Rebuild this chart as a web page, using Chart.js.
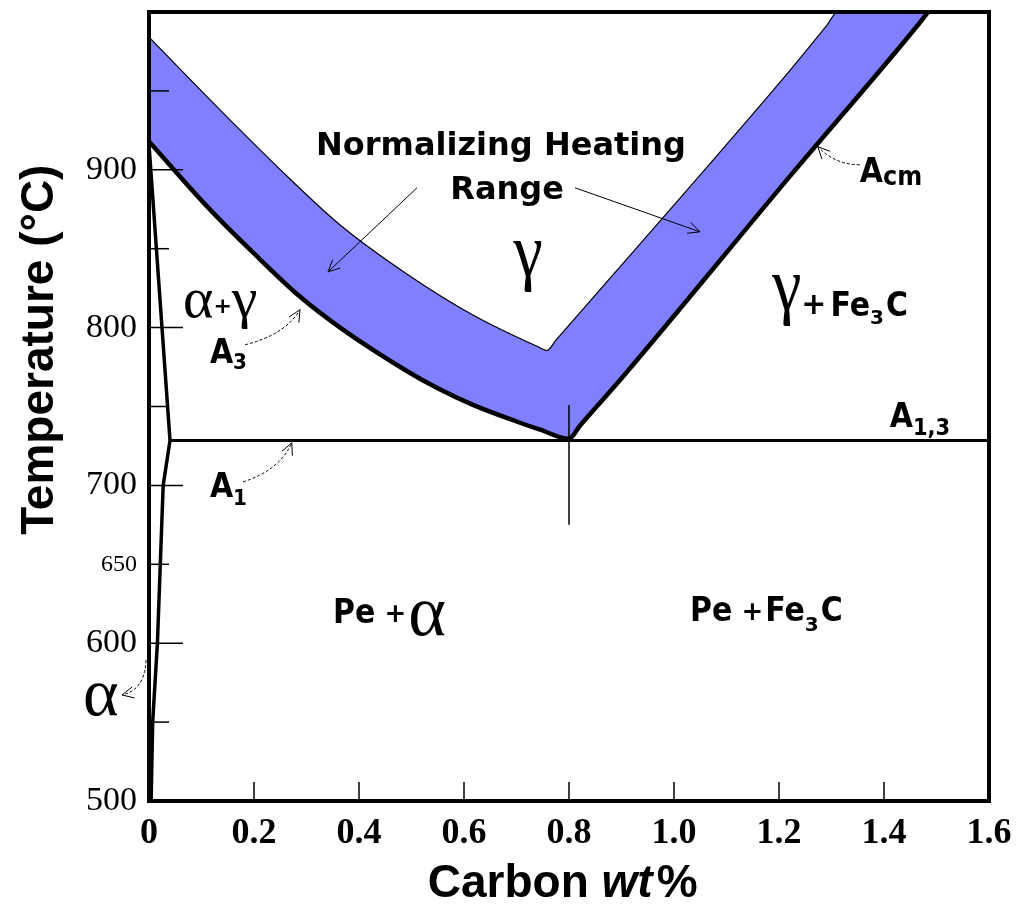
<!DOCTYPE html>
<html>
<head>
<meta charset="utf-8">
<script src="https://cdn.jsdelivr.net/npm/chart.js@4/dist/chart.umd.min.js"></script>
<style>
html,body{margin:0;padding:0;background:#fff;}
#wrap{width:1029px;height:904px;position:relative;}
</style>
</head>
<body>
<div id="wrap"><canvas id="c" width="1029" height="904"></canvas></div>
<script>
// ---- data (carbon wt% , temperature °C) ----
const upperX = [0, 0.168, 0.269, 0.364, 0.491, 0.617, 0.74, 0.758, 0.775, 1.221, 1.29, 1.312, 1.484];
const upperT = [984, 927, 894, 865, 834, 808, 788, 785.5, 792, 963, 991, 1000, 1000];
const lowerX = [0, 0.11, 0.2, 0.288, 0.364, 0.491, 0.55, 0.617, 0.7, 0.745, 0.8, 0.82, 0.903, 1.221, 1.47, 1.484];
const lowerT = [918, 877, 847, 819.5, 800, 772.5, 761.5, 751, 740.5, 735.3, 729.5, 737.5, 769, 896, 994, 1000];
const alphaX = [0, 0.04, 0.027, 0.016, 0.007, 0.004];
const alphaT = [916, 728.5, 700, 600, 550, 500];
const a1X = [0.04, 1.6];
const a1T = [728.5, 728.5];
const eutX = [0.8, 0.8];
const eutT = [751, 675];

const xTickValues = [0, 0.2, 0.4, 0.6, 0.8, 1.0, 1.2, 1.4, 1.6];
const xTickLabels = ['0', '0.2', '0.4', '0.6', '0.8', '1.0', '1.2', '1.4', '1.6'];
const xInnerTicks = [0.2, 0.4, 0.6, 0.8, 1.0, 1.2, 1.4];
const yTickValues = [500, 600, 650, 700, 800, 900];
const yTickLabels = ['500', '600', '650', '700', '800', '900'];
const yMajorTicks = [600, 700, 800, 900];
const yMinorTicks = [550, 650, 750, 850, 950];

// ---- annotation config ----
const SANS = '"DejaVu Sans"';
const SERIF = '"Liberation Serif"';
const annotations = [
  {x: 0.6705, y: 909.5, align: 'center', runs: [{t: 'Normalizing Heating', f: 'bold 32px ' + SANS}]},
  {x: 0.682, y: 881.6, align: 'center', runs: [{t: 'Range', f: 'bold 32px ' + SANS}]},
  {x: 0.722, y: 833, align: 'center', runs: [{t: 'γ', f: '66px ' + SERIF, sy: 1.15}]},
  {x: 0.0648, y: 806.8, runs: [{t: 'α', f: '58px ' + SERIF}, {t: '+', f: 'bold 22px ' + SANS, dy: -4}, {t: 'γ', f: '58px ' + SERIF}]},
  {x: 0.116, y: 777.7, runs: [{t: 'A', f: 'bold 30px ' + SANS, sy: 1.15}, {t: '3', f: 'bold 20px ' + SANS, dy: 6, sy: 1.1}]},
  {x: 0.116, y: 692.7, runs: [{t: 'A', f: 'bold 30px ' + SANS, sy: 1.15}, {t: '1', f: 'bold 20px ' + SANS, dy: 8, sy: 1.1}]},
  {x: 1.354, y: 892.4, runs: [{t: 'A', f: 'bold 30px ' + SANS, sy: 1.15}, {t: 'cm', f: 'bold 24px ' + SANS, dy: 3, sy: 1.1}]},
  {x: 1.411, y: 737.1, runs: [{t: 'A', f: 'bold 30px ' + SANS, sy: 1.15}, {t: '1,3', f: 'bold 21px ' + SANS, dy: 8, sy: 1.1}]},
  {x: 1.187, y: 811.3, runs: [{t: 'γ', f: '66px ' + SERIF, sy: 1.15}, {t: '+', f: 'bold 30px ' + SANS, dy: 4}, {t: 'Fe', f: 'bold 30px ' + SANS, dy: 6, sy: 1.1, dx: 4}, {t: '3', f: 'bold 20px ' + SANS, dy: 14}, {t: 'C', f: 'bold 30px ' + SANS, dy: 6, sy: 1.1, dx: 2}]},
  {x: 0.3505, y: 612.8, runs: [{t: 'Pe', f: 'bold 30px ' + SANS, sy: 1.15}, {t: ' +', f: 'bold 26px ' + SANS, dy: -1}, {t: 'α', f: '72px ' + SERIF, dy: 12, dx: 2}]},
  {x: 1.0305, y: 614.1, runs: [{t: 'Pe', f: 'bold 30px ' + SANS, sy: 1.15}, {t: ' +', f: 'bold 26px ' + SANS, dy: -1}, {t: 'Fe', f: 'bold 30px ' + SANS, sy: 1.15, dx: 2}, {t: '3', f: 'bold 20px ' + SANS, dy: 10}, {t: 'C', f: 'bold 30px ' + SANS, sy: 1.15, dx: 2}]},
  {x: -0.1257, y: 554.5, runs: [{t: 'α', f: '68px ' + SERIF}]}
];
const arrows = [
  {from: [0.5105, 888.6], to: [0.341, 835.3], dash: []},
  {from: [0.8114, 888.6], to: [1.0495, 860.7], dash: []},
  {from: [0.183, 789.1], ctrl: [0.259, 795.4], to: [0.2876, 811.3], dash: [3, 2]},
  {from: [0.179, 702.2], ctrl: [0.2495, 709.8], to: [0.272, 727], dash: [3, 2]},
  {from: [1.354, 903.2], ctrl: [1.307, 903.2], to: [1.274, 914.6], dash: [3, 2]},
  {from: [-0.0057, 589.4], ctrl: [-0.0076, 570.4], to: [-0.0514, 567.2], dash: [3, 2]}
];

const pts = (xs, ys) => xs.map((x, i) => ({x: x, y: ys[i]}));

function drawRuns(c, px, py, runs, align) {
  const widths = runs.map(r => { c.font = r.f; return c.measureText(r.t).width + (r.dx || 0); });
  const total = widths.reduce((a, b) => a + b, 0);
  let x = align === 'center' ? px - total / 2 : px;
  runs.forEach((r, i) => {
    c.save();
    c.font = r.f;
    c.textAlign = 'left';
    c.textBaseline = 'alphabetic';
    c.translate(x + (r.dx || 0), py + (r.dy || 0));
    c.scale(1, r.sy || 1);
    c.fillText(r.t, 0, 0);
    c.restore();
    x += widths[i];
  });
}

function arrowHead(c, tx, ty, ang) {
  const L = 13, s = 0.45;
  c.setLineDash([]);
  c.beginPath();
  c.moveTo(tx - L * Math.cos(ang - s), ty - L * Math.sin(ang - s));
  c.lineTo(tx, ty);
  c.lineTo(tx - L * Math.cos(ang + s), ty - L * Math.sin(ang + s));
  c.stroke();
}

const overlay = {
  id: 'overlay',
  afterDatasetsDraw(chart) {
    const c = chart.ctx, a = chart.chartArea, X = chart.scales.x, Y = chart.scales.y;
    c.save();
    c.strokeStyle = '#000';
    c.fillStyle = '#000';
    c.lineWidth = 4;
    c.strokeRect(a.left, a.top, a.right - a.left, a.bottom - a.top);
    c.lineWidth = 1.5;
    yMajorTicks.forEach(v => { const p = Y.getPixelForValue(v); c.beginPath(); c.moveTo(a.left, p); c.lineTo(a.left + 34, p); c.stroke(); });
    yMinorTicks.forEach(v => { const p = Y.getPixelForValue(v); c.beginPath(); c.moveTo(a.left, p); c.lineTo(a.left + 20, p); c.stroke(); });
    xInnerTicks.forEach(v => { const p = X.getPixelForValue(v); c.beginPath(); c.moveTo(p, a.bottom); c.lineTo(p, a.bottom - 19); c.stroke(); });
    c.lineWidth = 1;
    arrows.forEach(ar => {
      const fx = X.getPixelForValue(ar.from[0]), fy = Y.getPixelForValue(ar.from[1]);
      const tx = X.getPixelForValue(ar.to[0]), ty = Y.getPixelForValue(ar.to[1]);
      c.setLineDash(ar.dash);
      c.beginPath();
      c.moveTo(fx, fy);
      let ang;
      if (ar.ctrl) {
        const cx = X.getPixelForValue(ar.ctrl[0]), cy = Y.getPixelForValue(ar.ctrl[1]);
        c.quadraticCurveTo(cx, cy, tx, ty);
        ang = Math.atan2(ty - cy, tx - cx);
      } else {
        c.lineTo(tx, ty);
        ang = Math.atan2(ty - fy, tx - fx);
      }
      c.stroke();
      arrowHead(c, tx, ty, ang);
    });
    annotations.forEach(an => drawRuns(c, X.getPixelForValue(an.x), Y.getPixelForValue(an.y), an.runs, an.align));
    c.save();
    c.translate(a.left - 96, Y.getPixelForValue(786));
    c.rotate(-Math.PI / 2);
    c.font = 'bold 46px "Liberation Sans"';
    c.textAlign = 'center';
    c.textBaseline = 'alphabetic';
    c.fillText('Temperature (°C)', 0, 0);
    c.restore();
    drawRuns(c, X.getPixelForValue(0.531), a.bottom + 96, [
      {t: 'Carbon ', f: 'bold 46px "Liberation Sans"'},
      {t: 'wt', f: 'italic bold 46px "Liberation Sans"'},
      {t: '%', f: 'bold 46px "Liberation Sans"', dx: 4}
    ], 'left');
    c.restore();
  }
};

const zeroPad = s => { s.paddingTop = 0; s.paddingBottom = 0; s.paddingLeft = 0; s.paddingRight = 0; };

new Chart(document.getElementById('c'), {
  type: 'line',
  data: {
    datasets: [
      {label: 'Upper normalizing limit', data: pts(upperX, upperT), borderColor: '#000', borderWidth: 1.2, pointRadius: 0, fill: '+1', backgroundColor: '#8080ff', cubicInterpolationMode: 'monotone'},
      {label: 'A3 / Acm', data: pts(lowerX, lowerT), borderColor: '#000', borderWidth: 4.5, pointRadius: 0, fill: false, cubicInterpolationMode: 'monotone'},
      {label: 'Alpha boundary', data: pts(alphaX, alphaT), borderColor: '#000', borderWidth: 3.5, pointRadius: 0, fill: false, tension: 0},
      {label: 'A1', data: pts(a1X, a1T), borderColor: '#000', borderWidth: 3, pointRadius: 0, fill: false},
      {label: 'Eutectoid', data: pts(eutX, eutT), borderColor: '#000', borderWidth: 1.5, pointRadius: 0, fill: false}
    ]
  },
  options: {
    responsive: false,
    animation: false,
    devicePixelRatio: 1,
    layout: {padding: {left: 0, right: 40, top: 12, bottom: 0}},
    plugins: {legend: {display: false}, tooltip: {enabled: false}, filler: {drawTime: 'beforeDatasetsDraw'}},
    scales: {
      x: {
        type: 'linear', min: 0, max: 1.6,
        grid: {display: false, drawTicks: false},
        border: {display: false},
        afterBuildTicks: s => { s.ticks = xTickValues.map(v => ({value: v})); },
        afterFit: s => { s.height = 103; zeroPad(s); },
        ticks: {
          autoSkip: false, maxRotation: 0, padding: 11, color: '#000',
          font: {family: 'Liberation Serif', size: 36, weight: 'bold'},
          callback: v => xTickLabels[xTickValues.indexOf(v)]
        }
      },
      y: {
        type: 'linear', min: 500, max: 1000,
        grid: {display: false, drawTicks: false},
        border: {display: false},
        afterBuildTicks: s => { s.ticks = yTickValues.map(v => ({value: v})); },
        afterFit: s => { s.width = 149; zeroPad(s); },
        ticks: {
          autoSkip: false, padding: 12, color: '#000',
          font: ctx => (ctx.tick && ctx.tick.value === 650) ? {family: 'Liberation Serif', size: 24} : {family: 'Liberation Serif', size: 34},
          callback: v => yTickLabels[yTickValues.indexOf(v)]
        }
      }
    }
  },
  plugins: [overlay]
});
</script>
</body>
</html>
